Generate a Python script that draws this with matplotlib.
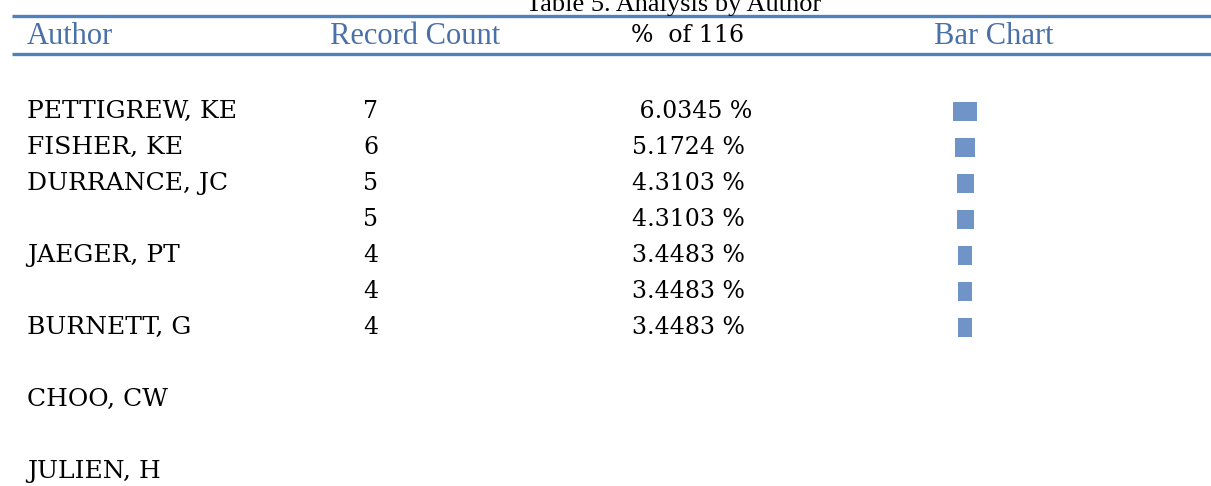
import matplotlib
matplotlib.use("Agg")
import matplotlib.pyplot as plt

# table data
title = "Table 5. Analysis by Author"
headers = ["Author", "Record Count", "%  of 116", "Bar Chart"]
authors = ["PETTIGREW, KE", "FISHER, KE", "DURRANCE, JC", "", "JAEGER, PT", "", "BURNETT, G"]
counts = [7, 6, 5, 5, 4, 4, 4]
percents = [6.0345, 5.1724, 4.3103, 4.3103, 3.4483, 3.4483, 3.4483]
extra_authors = ["CHOO, CW", "JULIEN, H"]

blue = "#4F81BD"
head_blue = "#4A70A8"
bar_blue = "#7094C8"
serif = ["Liberation Serif", "DejaVu Serif"]
wide = ["DejaVu Serif"]

fig = plt.figure(figsize=(12.11, 4.86), dpi=100)
ax = fig.add_axes([0, 0, 1, 1])
ax.set_xlim(0, 1211)
ax.set_ylim(486, 0)
ax.axis("off")

fs = 17
name_fs = 18
ax.text(674, 11, title, ha="center", va="baseline", fontsize=19, family=serif)
ax.plot([12, 1211], [16, 16], color=blue, lw=2.4, solid_capstyle="butt")
ax.plot([12, 1211], [54, 54], color=blue, lw=2.4, solid_capstyle="butt")

head_x = [27, 330, 631, 934]
head_col = [head_blue, head_blue, "black", head_blue]
head_font = [serif, serif, wide, serif]
head_fs = [22, 22, 17, 22]
for x, h, c, f, s in zip(head_x, headers, head_col, head_font, head_fs):
    ax.text(x, 36, h, ha="left", va="center", fontsize=s, color=c, family=f)

row_h = 36
y0 = 111
for i, (a, n, p) in enumerate(zip(authors, counts, percents)):
    y = y0 + i * row_h
    ax.text(27, y, a, ha="left", va="center", fontsize=name_fs, family=wide)
    ax.text(363, y, str(n), ha="left", va="center", fontsize=fs, family=wide)
    lab = "%.4f %%" % p
    if i == 0:
        lab = " " + lab
    ax.text(632, y, lab, ha="left", va="center", fontsize=fs, family=wide)

# little bars, width proportional to count
ys = [y0 + i * row_h for i in range(len(counts))]
ax.barh(ys, [c * 3.4 for c in counts], left=[965 - c * 1.7 for c in counts],
        height=19, color=bar_blue)

for j, a in enumerate(extra_authors):
    y = y0 + (len(authors) + 1 + 2 * j) * row_h
    ax.text(27, y, a, ha="left", va="center", fontsize=name_fs, family=wide)

fig.savefig("out.png", dpi=100)
